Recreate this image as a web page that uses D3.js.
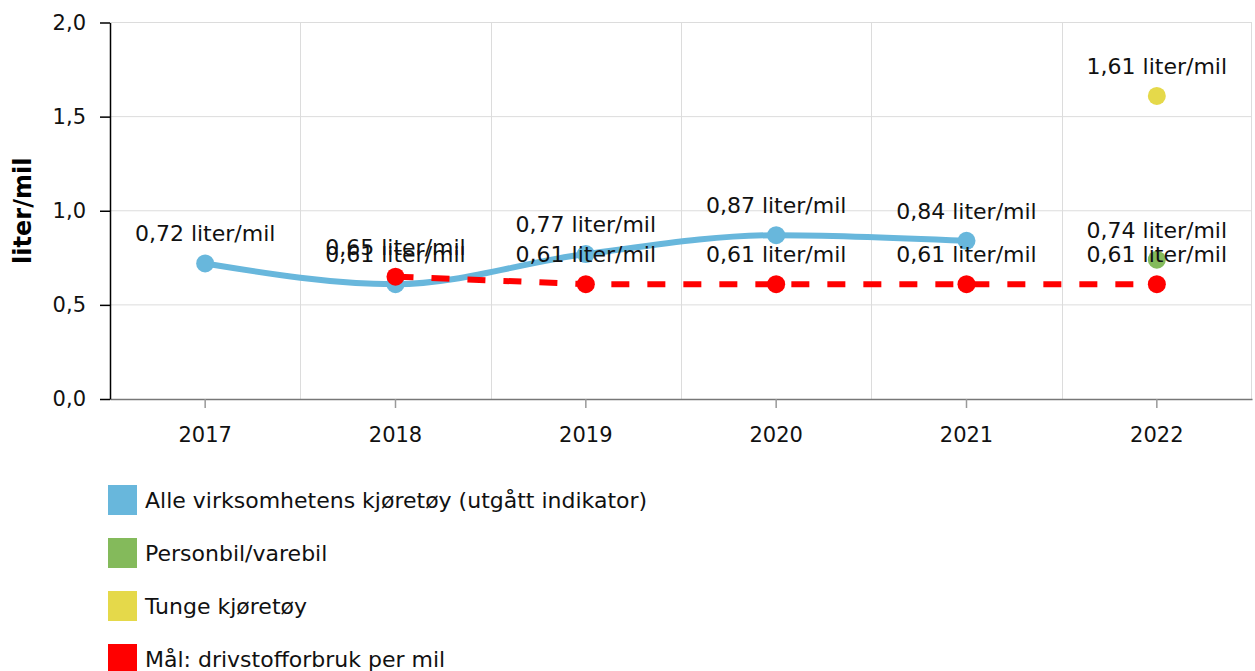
<!DOCTYPE html>
<html>
<head>
<meta charset="utf-8">
<script src="https://cdn.jsdelivr.net/npm/d3@7"></script>
<style>
  body { margin: 0; background: #fff; }
  svg { font-family: "DejaVu Sans", Verdana, sans-serif; }
</style>
</head>
<body>
<div id="chart"></div>
<script>
// data
const years = ["2017", "2018", "2019", "2020", "2021", "2022"];
const alleValues = [0.72, 0.61, 0.77, 0.87, 0.84, null];
const personbilValues = [null, null, null, null, null, 0.74];
const tungeValues = [null, null, null, null, null, 1.61];
const maalValues = [null, 0.65, 0.61, 0.61, 0.61, 0.61];
const yTicks = [0, 0.5, 1.0, 1.5, 2.0];
const seriesNames = ["Alle virksomhetens kjøretøy (utgått indikator)", "Personbil/varebil", "Tunge kjøretøy", "Mål: drivstofforbruk per mil"];
const seriesColors = ["#68b7dc", "#84ba5b", "#e5d94a", "#ff0000"];

const W = 1255, H = 671;
const margin = {top: 22.5, right: 3, bottom: 272, left: 110};
const width = W - margin.left - margin.right,
      height = H - margin.top - margin.bottom;

const fmt = v => d3.format(".2f")(v).replace(".", ",") + " liter/mil";

const svg = d3.select('#chart').append('svg')
  .attr('width', W)
  .attr('height', H);

const g = svg.append('g')
  .attr('transform', `translate(${margin.left}, ${margin.top})`);

const xScale = d3.scaleBand()
  .domain(years)
  .range([0, width]);

const yScale = d3.scaleLinear()
  .domain([0, 2])
  .range([height, 0]);

const cx = d => xScale(d) + xScale.bandwidth() / 2;

// grid
g.append('g').selectAll('line.hgrid')
  .data(yTicks.filter(t => t > 0))
  .join('line')
  .attr('x1', 0).attr('x2', width)
  .attr('y1', d => yScale(d)).attr('y2', d => yScale(d))
  .attr('stroke', '#dcdcdc').attr('stroke-width', 1);

g.append('g').selectAll('line.vgrid')
  .data(years.slice(1).concat(['end']))
  .join('line')
  .attr('x1', d => d === 'end' ? width - 0.5 : Math.round(xScale(d)) + 0.5)
  .attr('x2', d => d === 'end' ? width - 0.5 : Math.round(xScale(d)) + 0.5)
  .attr('y1', 0).attr('y2', height)
  .attr('stroke', '#dcdcdc').attr('stroke-width', 1);

// axes
const xAxis = d3.axisBottom(xScale).tickSize(9).tickPadding(19).tickSizeOuter(0);
const xAxisGroup = g.append('g')
  .attr('transform', `translate(0, ${height})`)
  .call(xAxis)
  .attr('font-family', null);
xAxisGroup.select('.domain').attr('stroke', '#777').attr('stroke-width', 1.5);
xAxisGroup.selectAll('.tick line').attr('stroke', '#999').attr('stroke-width', 1.5);
xAxisGroup.selectAll('.tick text').attr('font-size', 21).attr('fill', '#111');

const yAxis = d3.axisLeft(yScale).tickValues(yTicks).tickSize(10).tickPadding(14)
  .tickFormat(d => d3.format(".1f")(d).replace(".", ",")).tickSizeOuter(0);
const yAxisGroup = g.append('g').call(yAxis).attr('font-family', null);
yAxisGroup.select('.domain').attr('stroke', '#000').attr('stroke-width', 1.5);
yAxisGroup.selectAll('.tick line').attr('stroke', '#000').attr('stroke-width', 1.5);
yAxisGroup.selectAll('.tick text').attr('font-size', 21).attr('fill', '#111');

svg.append('text')
  .attr('transform', `translate(31, ${margin.top + height / 2}) rotate(-90)`)
  .attr('text-anchor', 'middle')
  .attr('font-size', 24)
  .attr('font-weight', 'bold')
  .text('liter/mil');

// lines
const toPoints = vals => years.map((y, i) => ({year: y, v: vals[i]})).filter(d => d.v !== null);

const line = d3.line()
  .x(d => cx(d.year))
  .y(d => yScale(d.v))
  .curve(d3.curveMonotoneX);

const allSeries = [alleValues, personbilValues, tungeValues, maalValues];

g.append('path')
  .datum(toPoints(alleValues))
  .attr('d', line)
  .attr('fill', 'none')
  .attr('stroke', seriesColors[0])
  .attr('stroke-width', 6);

g.append('path')
  .datum(toPoints(maalValues))
  .attr('d', d3.line().x(d => cx(d.year)).y(d => yScale(d.v)))
  .attr('fill', 'none')
  .attr('stroke', seriesColors[3])
  .attr('stroke-width', 6)
  .attr('stroke-dasharray', '18,18');

// markers
allSeries.forEach((vals, i) => {
  g.append('g').selectAll('circle')
    .data(toPoints(vals))
    .join('circle')
    .attr('cx', d => cx(d.year))
    .attr('cy', d => yScale(d.v))
    .attr('r', 9)
    .attr('fill', seriesColors[i]);
});

// data labels
allSeries.forEach((vals, i) => {
  g.append('g').selectAll('text')
    .data(toPoints(vals))
    .join('text')
    .attr('x', d => cx(d.year))
    .attr('y', d => yScale(d.v) - 22)
    .attr('text-anchor', 'middle')
    .attr('font-size', 22)
    .attr('fill', '#111')
    .text(d => fmt(d.v));
});

// legend
const legend = svg.append('g')
  .attr('transform', 'translate(108, 485)');
const items = legend.selectAll('g')
  .data(seriesNames)
  .join('g')
  .attr('transform', (d, i) => `translate(0, ${i * 53})`);
items.append('rect')
  .attr('width', 29).attr('height', 30)
  .attr('fill', (d, i) => seriesColors[i]);
items.append('text')
  .attr('x', 37).attr('y', 23)
  .attr('font-size', 22)
  .attr('fill', '#111')
  .text(d => d);
</script>
</body>
</html>
